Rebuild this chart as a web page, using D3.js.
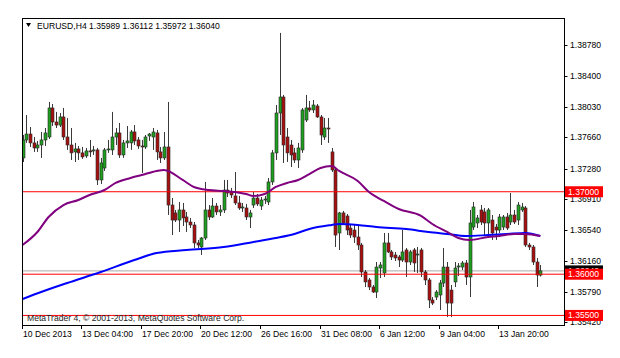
<!DOCTYPE html>
<html><head><meta charset="utf-8">
<script src="https://cdn.jsdelivr.net/npm/d3@7/dist/d3.min.js"></script>
<style>html,body{margin:0;padding:0;background:#fff;}svg{display:block;}</style>
</head><body>
<script>
// ---- data ----
const symbolTitle = "EURUSD,H4  1.35989 1.36112 1.35972 1.36040";
const copyright = "MetaTrader 4, \u00a9 2001-2013, MetaQuotes Software Corp.";
const opens = [1.37410,1.37628,1.37700,1.37592,1.37531,1.37567,1.37628,1.37664,1.38016,1.37846,1.37809,1.37907,1.37664,1.37567,1.37483,1.37519,1.37471,1.37434,1.37495,1.37495,
1.37507,1.37143,1.37288,1.37507,1.37507,1.37664,1.37713,1.37446,1.37592,1.37592,1.37725,1.37628,1.37555,1.37543,1.37676,1.37664,1.37713,1.37483,1.37410,1.37543,
1.36839,1.36743,1.36657,1.36779,1.36694,1.36633,1.36597,1.36379,1.36330,1.36439,1.36779,1.36694,1.36827,1.36755,1.36779,1.37021,1.36997,1.36949,1.36864,1.36803,
1.36803,1.36694,1.36839,1.36924,1.36827,1.36900,1.36876,1.37119,1.37471,1.37955,1.38149,1.37664,1.37567,1.37471,1.37385,1.37507,1.37870,1.38016,1.37992,1.38040,
1.37907,1.37664,1.37773,1.37483,1.37264,1.36500,1.36743,1.36706,1.36560,1.36536,1.36451,1.36354,1.36027,1.35930,1.35845,1.35784,1.36075,1.36015,1.36379,1.36270,
1.36233,1.36209,1.36172,1.36294,1.36148,1.36294,1.36233,1.36294,1.36027,1.35930,1.35687,1.35723,1.35748,1.35893,1.36087,1.35808,1.35906,1.36087,1.36087,1.36136,
1.35966,1.36572,1.36621,1.36779,1.36755,1.36621,1.36657,1.36572,1.36536,1.36572,1.36694,1.36633,1.36718,1.36657,1.36779,1.36803,1.36354,1.36330,1.36148,1.35989];
const highs = [1.37688,1.37931,1.37785,1.37664,1.37616,1.37725,1.37773,1.38089,1.38064,1.37968,1.37955,1.38016,1.37895,1.37773,1.37592,1.37555,1.37543,1.37531,1.37628,1.37555,
1.37531,1.37410,1.37531,1.37628,1.37968,1.37773,1.37834,1.37628,1.37797,1.37749,1.37809,1.37664,1.37628,1.37688,1.37713,1.37773,1.37749,1.37543,1.37725,1.38089,
1.36924,1.36779,1.36876,1.36864,1.36755,1.36682,1.36633,1.36415,1.36451,1.37119,1.36839,1.36924,1.36864,1.36839,1.37143,1.37143,1.37046,1.37240,1.36949,1.36864,
1.36852,1.36779,1.36997,1.36973,1.36936,1.36949,1.37167,1.37507,1.38052,1.38926,1.38174,1.37773,1.37628,1.37531,1.37592,1.38016,1.38174,1.38101,1.38113,1.38064,
1.37931,1.37895,1.37895,1.37531,1.37288,1.36755,1.36767,1.36730,1.36597,1.36597,1.36597,1.36379,1.36051,1.35954,1.35869,1.36148,1.36148,1.36500,1.36500,1.36294,
1.36270,1.36233,1.36536,1.36318,1.36294,1.36318,1.36330,1.36318,1.36051,1.35954,1.35723,1.35808,1.35930,1.36318,1.36148,1.35869,1.36148,1.36136,1.36160,1.36172,
1.36779,1.36876,1.36718,1.36839,1.36803,1.36803,1.36718,1.36609,1.36730,1.36718,1.36743,1.36985,1.36779,1.36876,1.36864,1.36827,1.36379,1.36354,1.36197,1.36112];
const lows = [1.37361,1.37592,1.37543,1.37483,1.37483,1.37410,1.37555,1.37640,1.37797,1.37773,1.37785,1.37628,1.37507,1.37385,1.37361,1.37385,1.37398,1.37410,1.37422,1.37446,
1.37082,1.37094,1.37252,1.37471,1.37446,1.37567,1.37410,1.37410,1.37531,1.37507,1.37567,1.37519,1.37228,1.37519,1.37616,1.37507,1.37385,1.37349,1.37385,1.36718,
1.36475,1.36633,1.36512,1.36585,1.36512,1.36560,1.36318,1.36318,1.36233,1.36415,1.36657,1.36682,1.36718,1.36706,1.36743,1.36936,1.36924,1.36839,1.36779,1.36755,
1.36657,1.36560,1.36803,1.36827,1.36779,1.36852,1.36839,1.37082,1.37385,1.37688,1.37349,1.37361,1.37300,1.37349,1.37288,1.37471,1.37846,1.37968,1.37955,1.37895,
1.37567,1.37628,1.37592,1.37240,1.36330,1.36294,1.36597,1.36475,1.36439,1.36379,1.36294,1.35966,1.35845,1.35808,1.35772,1.35711,1.35954,1.35966,1.36257,1.36172,
1.36160,1.36087,1.36148,1.35966,1.36112,1.36027,1.36015,1.35966,1.35869,1.35590,1.35626,1.35687,1.35566,1.35845,1.35481,1.35481,1.35845,1.35978,1.36051,1.35869,
1.35723,1.36536,1.36560,1.36597,1.36475,1.36475,1.36415,1.36415,1.36500,1.36536,1.36536,1.36597,1.36609,1.36597,1.36755,1.36330,1.36294,1.36112,1.35845,1.35972];
const closes = [1.37628,1.37700,1.37592,1.37531,1.37567,1.37628,1.37713,1.38016,1.37846,1.37809,1.37907,1.37664,1.37567,1.37471,1.37519,1.37471,1.37422,1.37495,1.37489,1.37507,
1.37143,1.37349,1.37507,1.37519,1.37664,1.37713,1.37446,1.37592,1.37616,1.37725,1.37616,1.37555,1.37543,1.37664,1.37700,1.37725,1.37483,1.37410,1.37543,1.36839,
1.36657,1.36657,1.36779,1.36682,1.36633,1.36597,1.36379,1.36354,1.36439,1.36779,1.36694,1.36827,1.36755,1.36779,1.37021,1.36985,1.36961,1.36864,1.36803,1.36815,
1.36694,1.36743,1.36924,1.36852,1.36900,1.36912,1.37119,1.37471,1.37955,1.38149,1.37567,1.37471,1.37446,1.37385,1.37531,1.37992,1.38016,1.37992,1.38052,1.37907,
1.37688,1.37773,1.37767,1.37264,1.36475,1.36743,1.36621,1.36536,1.36475,1.36451,1.36354,1.36027,1.35906,1.35845,1.35784,1.36087,1.36112,1.36379,1.36270,1.36209,
1.36197,1.36172,1.36270,1.36148,1.36270,1.36136,1.36245,1.36027,1.35930,1.35687,1.35650,1.35784,1.35893,1.36087,1.35650,1.35650,1.36075,1.36100,1.36136,1.35966,
1.36621,1.36815,1.36682,1.36633,1.36621,1.36779,1.36500,1.36536,1.36694,1.36694,1.36560,1.36718,1.36633,1.36839,1.36815,1.36354,1.36330,1.36148,1.35990,1.36040];
const maPurpleIdx = [0,4,7,11,15,18,22,25,29,32,36,38,43,46,50,54,57,60,62,65,68,71,74,77,80,83,85,90,93,97,101,107,110,114,117,120,125,128,132,135,139];
const maPurple = [1.36354,1.36512,1.36694,1.36839,1.36900,1.36961,1.37021,1.37107,1.37167,1.37203,1.37252,1.37264,1.37143,1.37058,1.37021,1.37009,1.36997,1.36973,1.36949,1.36973,1.37058,1.37107,1.37143,1.37215,1.37288,1.37312,1.37252,1.37131,1.36997,1.36888,1.36791,1.36706,1.36609,1.36512,1.36439,1.36415,1.36451,1.36463,1.36488,1.36488,1.36463];
const maBlueIdx = [0,5,12,21,30,36,44,54,62,68,73,77,83,85,90,95,103,109,114,119,125,130,135,139];
const maBlue = [1.35699,1.35784,1.35893,1.36027,1.36172,1.36257,1.36294,1.36330,1.36391,1.36439,1.36488,1.36548,1.36597,1.36609,1.36597,1.36572,1.36548,1.36512,1.36488,1.36463,1.36475,1.36488,1.36500,1.36463];
const yTicks = [1.38780,1.38400,1.38030,1.37660,1.37280,1.36910,1.36540,1.36160,1.35790,1.35420];
const xTickIdx = [0,16,32,48,64,80,96,112,128];
const xTickLabels = ["10 Dec 2013","13 Dec 04:00","17 Dec 20:00","20 Dec 12:00","26 Dec 16:00","31 Dec 08:00","6 Jan 12:00","9 Jan 04:00","13 Jan 20:00"];
const levels = [1.37000,1.36000,1.35500];
const bidPrice = 1.36040;

// ---- layout ----
const W = 620, H = 358;
const L = 22, R = 564, T = 18, B = 325;
const FONT = "'Liberation Sans', Arial, sans-serif";
const svg = d3.select("body").append("svg").attr("width", W).attr("height", H);

const x = d3.scaleLinear().domain([0, 139]).range([22.5, 540.3]);
const y = d3.scaleLinear().domain([1.35384, 1.39107]).range([B, T]);
const data = opens.map((o, i) => ({i, o, h: highs[i], l: lows[i], c: closes[i]}));

const plot = svg.append("g");
const clip = svg.append("clipPath").attr("id", "pc").append("rect").attr("x", L).attr("y", T).attr("width", R - L).attr("height", B - T);
plot.attr("clip-path", "url(#pc)");

// bid line
plot.append("line").attr("x1", L).attr("x2", R).attr("y1", y(bidPrice)).attr("y2", y(bidPrice)).attr("stroke", "#a8a8a8").attr("stroke-width", 1);

// candles
const cg = plot.append("g");
cg.selectAll("line.w").data(data).join("line").attr("class", "w")
  .attr("x1", d => Math.round(x(d.i)) + 0.5).attr("x2", d => Math.round(x(d.i)) + 0.5)
  .attr("y1", d => y(d.h)).attr("y2", d => y(d.l))
  .attr("stroke", "#3a3a3a").attr("stroke-width", 1);
cg.selectAll("rect.b").data(data).join("rect").attr("class", "b")
  .attr("x", d => Math.round(x(d.i)) - 1)
  .attr("width", 3)
  .attr("y", d => y(Math.max(d.o, d.c)))
  .attr("height", d => Math.max(1, Math.abs(y(d.o) - y(d.c))))
  .attr("fill", d => d.c >= d.o ? "#1f9e1f" : "#a81010")
  .attr("stroke", "#2a2a2a").attr("stroke-width", 0.6);

// level lines
plot.selectAll("line.lv").data(levels).join("line").attr("class", "lv")
  .attr("x1", L).attr("x2", R).attr("y1", d => y(d)).attr("y2", d => y(d))
  .attr("stroke", "#ff0000").attr("stroke-width", 1);

// moving averages
const line = d3.line().curve(d3.curveMonotoneX);
plot.append("path").attr("d", line(maBlueIdx.map((k, j) => [x(k), y(maBlue[j])])))
  .attr("fill", "none").attr("stroke", "#0000ff").attr("stroke-width", 2);
plot.append("path").attr("d", line(maPurpleIdx.map((k, j) => [x(k), y(maPurple[j])])))
  .attr("fill", "none").attr("stroke", "#800080").attr("stroke-width", 2);

// frame
svg.append("rect").attr("x", L + 0.5).attr("y", T + 0.5).attr("width", R - L).attr("height", B - T)
  .attr("fill", "none").attr("stroke", "#000").attr("stroke-width", 1);

// y axis labels
const ya = svg.append("g");
yTicks.forEach(v => {
  ya.append("line").attr("x1", R + 0.5).attr("x2", R + 3.5).attr("y1", Math.round(y(v)) + 0.5).attr("y2", Math.round(y(v)) + 0.5).attr("stroke", "#000");
  ya.append("text").attr("x", R + 6).attr("y", y(v)).attr("dy", "0.35em")
    .attr("font-family", FONT).attr("font-size", 8.6).attr("fill", "#000").text(v.toFixed(5));
});
// bid label (black)
ya.append("rect").attr("x", R + 1).attr("y", y(bidPrice) - 5.5).attr("width", 38).attr("height", 11).attr("fill", "#000");
ya.append("text").attr("x", R + 4).attr("y", y(bidPrice)).attr("dy", "0.35em")
  .attr("font-family", FONT).attr("font-size", 8.6).attr("fill", "#fff").text(bidPrice.toFixed(5));
levels.forEach(v => {
  ya.append("rect").attr("x", R + 1).attr("y", y(v) - 5.5).attr("width", 38).attr("height", 11).attr("fill", "#ff0000");
  ya.append("text").attr("x", R + 4).attr("y", y(v)).attr("dy", "0.35em")
    .attr("font-family", FONT).attr("font-size", 8.6).attr("fill", "#fff").text(v.toFixed(5));
});

// x axis
const xa = svg.append("g");
xTickIdx.forEach((k, j) => {
  const px = Math.round(x(k)) - 0.5;
  xa.append("line").attr("x1", px).attr("x2", px).attr("y1", B).attr("y2", B + 4).attr("stroke", "#000");
  xa.append("text").attr("x", px + 0.5).attr("y", 337)
    .attr("font-family", FONT).attr("font-size", 8.6).attr("fill", "#000").text(xTickLabels[j]);
});

// title
svg.append("path").attr("d", "M26,23 L31,23 L28.5,27 Z").attr("fill", "#000");
svg.append("text").attr("x", 37).attr("y", 28.5).attr("font-family", FONT).attr("font-size", 8.6).attr("fill", "#000").text(symbolTitle);
// copyright
svg.append("text").attr("x", 27).attr("y", 320.5).attr("font-family", FONT).attr("font-size", 8.6).attr("fill", "#222").text(copyright);
</script>
</body></html>
